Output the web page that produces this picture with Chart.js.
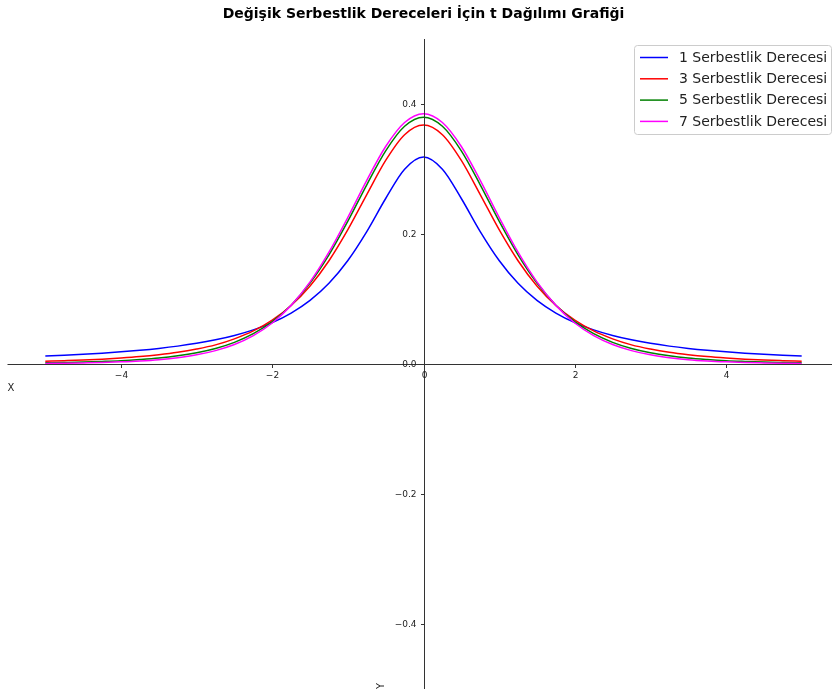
<!DOCTYPE html>
<html>
<head>
<meta charset="utf-8">
<script src="https://cdn.jsdelivr.net/npm/chart.js@4.4.1/dist/chart.umd.min.js"></script>
<style>
  html, body { margin: 0; padding: 0; background: #fff; overflow: hidden; }
  #wrap { width: 847px; height: 696px; }
</style>
</head>
<body>
<div id="wrap"><canvas id="tChart" width="847" height="696"></canvas></div>
<script>
const xValues = [-5, -4.75, -4.5, -4.25, -4, -3.75, -3.5, -3.25, -3, -2.75, -2.5, -2.25, -2, -1.75, -1.5, -1.25, -1, -0.75, -0.5, -0.25,
  0, 0.25, 0.5, 0.75, 1, 1.25, 1.5, 1.75, 2, 2.25, 2.5, 2.75, 3, 3.25, 3.5, 3.75, 4, 4.25, 4.5, 4.75, 5];

const df1 = [0.0122, 0.0135, 0.0150, 0.0167, 0.0187, 0.0211, 0.0240, 0.0275, 0.0318, 0.0372, 0.0439, 0.0525, 0.0637, 0.0784, 0.0979, 0.1242, 0.1592, 0.2037, 0.2546, 0.2996,
  0.3183, 0.2996, 0.2546, 0.2037, 0.1592, 0.1242, 0.0979, 0.0784, 0.0637, 0.0525, 0.0439, 0.0372, 0.0318, 0.0275, 0.0240, 0.0211, 0.0187, 0.0167, 0.0150, 0.0135, 0.0122];
const df3 = [0.0042, 0.0051, 0.0061, 0.0074, 0.0092, 0.0114, 0.0143, 0.0180, 0.0230, 0.0294, 0.0387, 0.0509, 0.0675, 0.0900, 0.1200, 0.1589, 0.2067, 0.2606, 0.3132, 0.3527,
  0.3676, 0.3527, 0.3132, 0.2606, 0.2067, 0.1589, 0.1200, 0.0900, 0.0675, 0.0509, 0.0387, 0.0294, 0.0230, 0.0180, 0.0143, 0.0114, 0.0092, 0.0074, 0.0061, 0.0051, 0.0042];
const df5 = [0.0018, 0.0023, 0.0029, 0.0039, 0.0051, 0.0069, 0.0092, 0.0126, 0.0173, 0.0239, 0.0333, 0.0466, 0.0651, 0.0905, 0.1245, 0.1679, 0.2197, 0.2757, 0.3279, 0.3657,
  0.3796, 0.3657, 0.3279, 0.2757, 0.2197, 0.1679, 0.1245, 0.0905, 0.0651, 0.0466, 0.0333, 0.0239, 0.0173, 0.0126, 0.0092, 0.0069, 0.0051, 0.0039, 0.0029, 0.0023, 0.0018];
const df7 = [0.0009, 0.0012, 0.0017, 0.0023, 0.0033, 0.0047, 0.0067, 0.0097, 0.0141, 0.0206, 0.0300, 0.0437, 0.0631, 0.0902, 0.1263, 0.1720, 0.2257, 0.2826, 0.3346, 0.3715,
  0.3850, 0.3715, 0.3346, 0.2826, 0.2257, 0.1720, 0.1263, 0.0902, 0.0631, 0.0437, 0.0300, 0.0206, 0.0141, 0.0097, 0.0067, 0.0047, 0.0033, 0.0023, 0.0017, 0.0012, 0.0009];

const seriesLabels = ["1 Serbestlik Derecesi", "3 Serbestlik Derecesi", "5 Serbestlik Derecesi", "7 Serbestlik Derecesi"];
const seriesColors = ["#0000ff", "#ff0000", "#008000", "#ff00ff"];

const xTicks = [-4, -2, 0, 2, 4];
const xTickLabels = ["\u22124", "\u22122", "0", "2", "4"];
const yTicks = [-0.4, -0.2, 0, 0.2, 0.4];
const yTickLabels = ["\u22120.4", "\u22120.2", "0.0", "0.2", "0.4"];

const toPoints = (ys) => xValues.map((x, i) => ({ x: x, y: ys[i] }));

// spines through the origin, ticks, axis names and the legend box
const centerAxes = {
  id: "centerAxes",
  afterDatasetsDraw(chart) {
    const ctx = chart.ctx;
    const area = chart.chartArea;
    const xs = chart.scales.x;
    const ys = chart.scales.y;
    const x0 = Math.round(xs.getPixelForValue(0)) + 0.5;
    const y0 = Math.round(ys.getPixelForValue(0)) + 0.5;

    ctx.save();
    ctx.strokeStyle = "#333";
    ctx.lineWidth = 1;
    ctx.beginPath();
    ctx.moveTo(area.left, y0);
    ctx.lineTo(area.right, y0);
    ctx.moveTo(x0, area.top);
    ctx.lineTo(x0, area.bottom);
    ctx.stroke();

    ctx.fillStyle = "#222";
    ctx.font = "9px 'DejaVu Sans'";

    ctx.textAlign = "center";
    ctx.textBaseline = "middle";
    xTicks.forEach((v, i) => {
      const px = Math.round(xs.getPixelForValue(v)) + 0.5;
      ctx.beginPath();
      ctx.moveTo(px, y0);
      ctx.lineTo(px, y0 + 3.5);
      ctx.stroke();
      ctx.fillText(xTickLabels[i], px, y0 + 11.5);
    });

    ctx.textAlign = "right";
    yTicks.forEach((v, i) => {
      const py = Math.round(ys.getPixelForValue(v)) + 0.5;
      ctx.beginPath();
      ctx.moveTo(x0, py);
      ctx.lineTo(x0 - 3.5, py);
      ctx.stroke();
      ctx.fillText(yTickLabels[i], x0 - 8, py);
    });

    // axis names
    ctx.font = "10px 'DejaVu Sans'";
    ctx.textAlign = "center";
    ctx.fillText("X", 11, 388);
    ctx.save();
    ctx.translate(381, 686);
    ctx.rotate(-Math.PI / 2);
    ctx.fillText("Y", 0, 0);
    ctx.restore();

    // legend
    const bx = 634.5, by = 45.5, bw = 197, bh = 89;
    ctx.fillStyle = "rgba(255,255,255,0.8)";
    ctx.strokeStyle = "#cccccc";
    ctx.beginPath();
    ctx.roundRect(bx, by, bw, bh, 3);
    ctx.fill();
    ctx.stroke();

    ctx.font = "14px 'DejaVu Sans'";
    ctx.textAlign = "left";
    ctx.textBaseline = "middle";
    chart.data.datasets.forEach((ds, i) => {
      const ly = 57.5 + i * 21.3;
      ctx.strokeStyle = ds.borderColor;
      ctx.lineWidth = 1.5;
      ctx.beginPath();
      ctx.moveTo(640, ly);
      ctx.lineTo(668, ly);
      ctx.stroke();
      ctx.fillStyle = "#222";
      ctx.fillText(ds.label, 679, ly + 0.5);
    });
    ctx.restore();
  }
};

const datasets = [df1, df3, df5, df7].map((ys, i) => ({
  label: seriesLabels[i],
  data: toPoints(ys),
  borderColor: seriesColors[i],
  backgroundColor: seriesColors[i],
  borderWidth: 1.5,
  pointRadius: 0,
  cubicInterpolationMode: "monotone",
  fill: false,
  order: 4 - i,
}));

new Chart(document.getElementById("tChart").getContext("2d"), {
  type: "line",
  data: { datasets: datasets },
  options: {
    responsive: false,
    animation: false,
    events: [],
    layout: { padding: { left: 7.5, right: 7.5, top: 0, bottom: 7 } },
    scales: {
      x: {
        type: "linear",
        min: -5.5,
        max: 5.5,
        display: false,
        afterBuildTicks: (scale) => { scale.ticks = xTicks.map((v) => ({ value: v })); },
      },
      y: {
        type: "linear",
        min: -0.5,
        max: 0.5,
        display: false,
        afterBuildTicks: (scale) => { scale.ticks = yTicks.map((v) => ({ value: v })); },
      },
    },
    plugins: {
      legend: { display: false },
      tooltip: { enabled: false },
      title: {
        display: true,
        text: "Değişik Serbestlik Dereceleri İçin t Dağılımı Grafiği",
        color: "#000",
        font: { family: "'DejaVu Sans'", size: 14, weight: "bold" },
        padding: { top: 5.6, bottom: 16.6 },
      },
    },
  },
  plugins: [centerAxes],
});
</script>
</body>
</html>
